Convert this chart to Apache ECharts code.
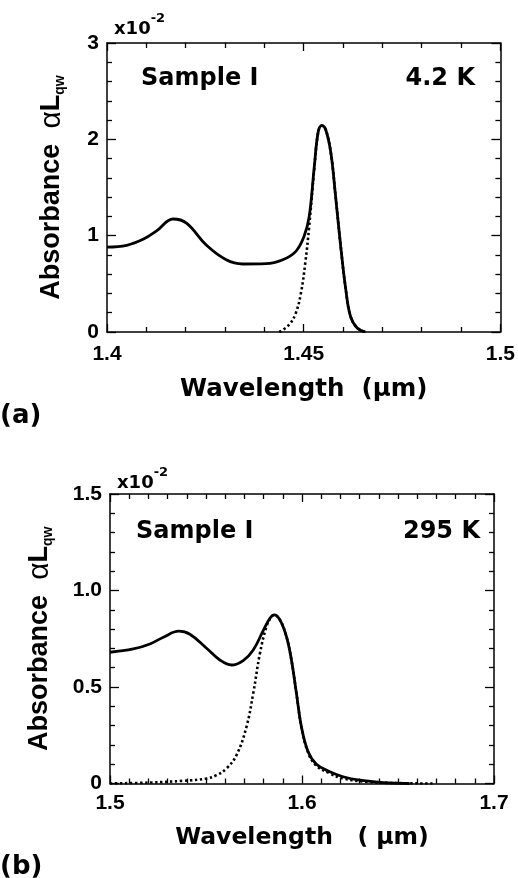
<!DOCTYPE html>
<html>
<head>
<meta charset="utf-8">
<script src="https://cdn.jsdelivr.net/npm/echarts@6/dist/echarts.min.js"></script>
<style>
html,body{margin:0;padding:0;background:#fff;}
#chart{width:518px;height:878px;}
</style>
</head>
<body>
<div id="chart"></div>
<script>
// ---- Panel (a): 4.2 K ----
const aSolidWl  = [1.400,1.405,1.4093,1.4126,1.4168,1.4202,1.4253,1.4303,1.4345,1.4404,1.4447,1.448,1.4501,1.4514,1.4527,1.4537,1.4546,1.4556,1.4569,1.4581,1.4594,1.4607,1.4619,1.4636,1.4657];
const aSolidAbs = [0.882,0.90,0.965,1.05,1.173,1.13,0.90,0.75,0.706,0.709,0.75,0.837,0.993,1.20,1.72,2.08,2.142,2.10,1.86,1.41,0.89,0.44,0.163,0.042,0];
const aDotWl    = [1.4438,1.4463,1.448,1.4493,1.4504,1.4514,1.4527,1.4537,1.4546,1.4556,1.4569,1.4581,1.4594,1.4607,1.4619,1.4636,1.4657];
const aDotAbs   = [0,0.076,0.197,0.405,0.716,1.097,1.70,2.08,2.142,2.10,1.86,1.41,0.89,0.44,0.163,0.042,0];
const aXTicks   = {min:1.4, max:1.5, interval:0.05};
const aYTicks   = {min:0, max:3, interval:1};

// ---- Panel (b): 295 K ----
const bSolidWl  = [1.500,1.5121,1.5208,1.5278,1.5359,1.5416,1.5503,1.5572,1.5633,1.5694,1.5746,1.5798,1.5833,1.5855,1.5885,1.5919,1.5945,1.5971,1.5997,1.6032,1.6075,1.6145,1.6214,1.6301,1.6422,1.656];
const bSolidAbs = [0.680,0.697,0.723,0.758,0.789,0.773,0.701,0.640,0.614,0.637,0.692,0.792,0.856,0.874,0.848,0.761,0.640,0.467,0.294,0.164,0.100,0.061,0.035,0.017,0.005,0];
const bDotWl    = [1.500,1.5208,1.5382,1.5503,1.5555,1.5607,1.5659,1.5711,1.5746,1.5781,1.5815,1.5841,1.5855,1.5885,1.5919,1.5945,1.5971,1.5997,1.6032,1.6075,1.6145,1.6214,1.6335,1.650,1.668];
const bDotAbs   = [0,0.005,0.014,0.026,0.043,0.078,0.147,0.294,0.467,0.675,0.813,0.865,0.874,0.848,0.761,0.640,0.467,0.294,0.160,0.092,0.052,0.026,0.009,0.002,0];
const bXTicks   = {min:1.5, max:1.7, interval:0.1};
const bYTicks   = {min:0, max:1.5, interval:0.5};

const FONT = '"Liberation Sans", Arial, Helvetica, sans-serif';
const WIDE = '"DejaVu Sans", Verdana, sans-serif';
const zip = (xs, ys) => xs.map((x, i) => [x, ys[i]]);

function xAxes(grid, t, minorSplit, pos, labels, fs, margin, name, nameGap, nameFs) {
  return {
    type:'value', gridIndex:grid, position:pos, min:t.min, max:t.max, interval:t.interval,
    axisLine:{show:true, onZero:false, lineStyle:{color:'#000', width:1.5}},
    axisTick:{show:true, inside:true, length:8, lineStyle:{color:'#000', width:1.3}},
    minorTick:{show:true, splitNumber:minorSplit, length:5, lineStyle:{color:'#000', width:1.3}},
    splitLine:{show:false}, minorSplitLine:{show:false},
    axisLabel:{show:labels, color:'#000', fontFamily:FONT, fontWeight:'bold', fontSize:fs, margin:margin,
      formatter: v => String(+v.toFixed(2))},
    name: labels ? name : '', nameLocation:'middle', nameGap:nameGap,
    nameTextStyle:{color:'#000', fontFamily:WIDE, fontWeight:'bold', fontSize:nameFs}
  };
}
function yAxes(grid, t, minorSplit, pos, labels, fs, fmt, nameGap) {
  return {
    type:'value', gridIndex:grid, position:pos, min:t.min, max:t.max, interval:t.interval,
    axisLine:{show:true, onZero:false, lineStyle:{color:'#000', width:1.5}},
    axisTick:{show:true, inside:true, length:9, lineStyle:{color:'#000', width:1.3}},
    minorTick:{show:true, splitNumber:minorSplit, length:5, lineStyle:{color:'#000', width:1.3}},
    splitLine:{show:false}, minorSplitLine:{show:false},
    axisLabel:{show:labels, color:'#000', fontFamily:FONT, fontWeight:'bold', fontSize:fs, margin:8, formatter:fmt},
    name: labels ? '{b|Absorbance  }{g|\u03B1}{b|L}{s|qw}' : '', nameLocation:'middle', nameGap:nameGap, nameRotate:90,
    nameTextStyle:{color:'#000', fontFamily:FONT, fontWeight:'bold',
      rich:{
        b:{fontFamily:FONT, fontWeight:'bold', fontSize:27, color:'#000', verticalAlign:'middle'},
        g:{fontFamily:FONT, fontWeight:'normal', fontSize:30, color:'#000', verticalAlign:'middle'},
        s:{fontFamily:FONT, fontWeight:'bold', fontSize:14, color:'#000', verticalAlign:'bottom'}
      }}
  };
}

const solidStyle = {color:'#000', width:2.8};
const dotStyle = {color:'#000', width:2.6, type:[2.4,2.6]};
const SM = 0.4;

const option = {
  backgroundColor:'#fff',
  animation:false,
  grid:[
    {left:107, top:43, width:395, height:289},
    {left:110, top:494, width:384, height:289.5}
  ],
  xAxis:[
    xAxes(0, aXTicks, 5, 'bottom', true, 21, 12, 'Wavelength  (\u03BCm)', 45, 24.5),
    xAxes(0, aXTicks, 5, 'top', false, 21, 12, '', 0, 25),
    xAxes(1, bXTicks, 10, 'bottom', true, 21, 9, 'Wavelength   ( \u03BCm)', 42, 23.5),
    xAxes(1, bXTicks, 10, 'top', false, 21, 9, '', 0, 24)
  ],
  yAxis:[
    yAxes(0, aYTicks, 5, 'left', true, 21, v => String(v), 40),
    yAxes(0, aYTicks, 5, 'right', false, 21, v => String(v), 0),
    yAxes(1, bYTicks, 5, 'left', true, 21, v => v === 0 ? '0' : v.toFixed(1), 55),
    yAxes(1, bYTicks, 5, 'right', false, 21, v => String(v), 0)
  ],
  series:[
    {type:'line', xAxisIndex:0, yAxisIndex:0, data:zip(aDotWl, aDotAbs), showSymbol:false, smooth:SM, lineStyle:dotStyle, z:2},
    {type:'line', xAxisIndex:0, yAxisIndex:0, data:zip(aSolidWl, aSolidAbs), showSymbol:false, smooth:SM, lineStyle:solidStyle, z:3},
    {type:'line', xAxisIndex:2, yAxisIndex:2, data:zip(bDotWl, bDotAbs), showSymbol:false, smooth:SM, lineStyle:dotStyle, z:2},
    {type:'line', xAxisIndex:2, yAxisIndex:2, data:zip(bSolidWl, bSolidAbs), showSymbol:false, smooth:SM, lineStyle:solidStyle, z:3}
  ],
  graphic:[
    {type:'text', left:141, top:67, style:{text:'Sample I', font:'bold 24px '+WIDE, fill:'#000'}},
    {type:'text', right:43, top:67, style:{text:'4.2 K', font:'bold 24px '+WIDE, fill:'#000'}},
    {type:'text', left:136, top:520, style:{text:'Sample I', font:'bold 24px '+WIDE, fill:'#000'}},
    {type:'text', right:38, top:520, style:{text:'295 K', font:'bold 24px '+WIDE, fill:'#000'}},
    {type:'text', left:114, top:12, style:{text:'{a|x10}{s|-2}', rich:{
      a:{font:'bold 18px '+WIDE, fill:'#000', verticalAlign:'bottom', lineHeight:26},
      s:{font:'bold 13px '+WIDE, fill:'#000', verticalAlign:'top', lineHeight:26}}}},
    {type:'text', left:117, top:466, style:{text:'{a|x10}{s|-2}', rich:{
      a:{font:'bold 18px '+WIDE, fill:'#000', verticalAlign:'bottom', lineHeight:26},
      s:{font:'bold 13px '+WIDE, fill:'#000', verticalAlign:'top', lineHeight:26}}}},
    {type:'text', left:0, top:403, style:{text:'(a)', font:'bold 26px '+WIDE, fill:'#000'}},
    {type:'text', left:0, top:854, style:{text:'(b)', font:'bold 26px '+WIDE, fill:'#000'}}
  ]
};
const chart = echarts.init(document.getElementById('chart'), null, {renderer:'canvas'});
chart.setOption(option);
</script>
</body>
</html>
